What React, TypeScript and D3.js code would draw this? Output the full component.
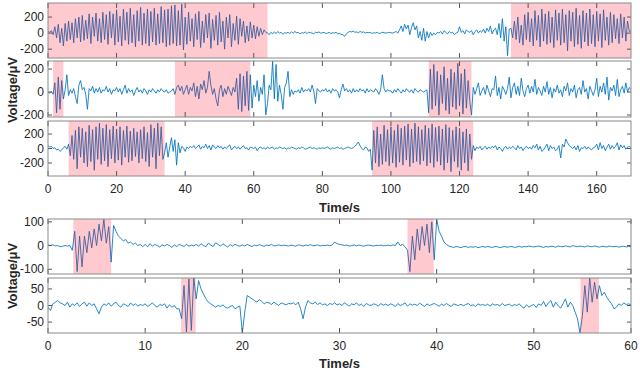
import React from "react";
import * as d3 from "d3";

// ---------- DATA ----------
const TOP_STEP = 0.5; // seconds between samples, upper figure
const BOT_STEP = 0.25; // seconds between samples, lower figure

const topXTicks = [0, 20, 40, 60, 80, 100, 120, 140, 160];
const botXTicks = [0, 10, 20, 30, 40, 50, 60];

const top1 = [
  20,10,30,-20,80,-60,110,-120,60,-160,120,-100,150,-80,130,-120,180,-60,200,-110,
  220,-90,160,-70,240,-130,200,-40,250,-100,180,-120,260,-80,230,-140,270,-60,240,-150,
  290,-110,210,-160,300,-90,260,-140,310,-120,230,-170,280,-100,320,-150,250,-130,300,-160,
  270,-110,310,-150,240,-130,330,-120,290,-170,300,-150,340,-130,350,-160,280,-150,360,-210,
  200,-140,260,-100,180,-170,240,-80,270,-180,150,-120,230,-60,250,-190,170,-90,220,-150,
  260,-110,150,-200,200,-60,230,-170,120,-90,210,-140,180,-40,150,-120,90,-100,140,-60,
  100,-70,80,-40,60,-20,40,10,
  0,-20,10,-10,15,-5,20,0,10,-15,5,0,
  10,-5,15,0,20,5,10,-10,5,0,15,-5,10,5,0,-10,10,5,15,0,
  5,10,-5,0,10,-5,5,0,10,-10,-5,-15,-20,-40,-10,10,20,15,25,10,
  15,5,20,10,15,0,10,5,10,-5,5,0,10,-5,0,10,5,0,5,10,
  5,0,10,20,0,40,90,20,110,50,100,-20,70,130,40,90,-60,20,-90,60,
  -100,20,-60,10,-30,0,-20,10,0,20,-10,30,10,-10,20,0,10,-20,0,10,
  80,10,30,-10,40,20,10,30,-20,20,40,0,30,10,50,0,60,20,90,-10,
  40,60,-20,120,-60,180,-100,80,-280,50,
  60,-60,150,-80,200,-120,100,-150,230,-80,
  260,-110,180,-160,280,-90,220,-170,300,-100,240,-140,270,-120,200,-180,290,-90,250,-150,
  300,-120,230,-220,280,-100,260,-170,310,-140,220,-190,280,-110,250,-160,300,-130,230,-170,
  270,-100,240,-180,290,-90,200,-150,260,-120,230,-70,180,-130,240,-60,200,-100,150,20,30,
];

const top2 = [
  0,-10,5,-20,80,-180,130,-150,100,-60,20,150,-30,20,-10,30,-40,-100,60,100,
  20,40,-20,-150,30,10,50,-10,30,0,40,-10,20,10,50,0,30,-20,20,10,
  40,0,30,-20,20,60,-10,30,0,20,-30,10,40,0,20,-10,30,10,-20,20,
  0,30,10,-10,20,0,30,10,0,20,-10,0,10,30,-20,40,60,10,50,-20,
  20,60,-20,40,10,80,-40,50,-60,70,20,100,-10,40,180,60,-20,30,-60,-120,
  20,60,-40,30,-20,50,10,-30,40,0,120,-150,160,-170,140,-120,180,-160,150,-140,
  60,-40,100,-80,40,-20,150,-200,-100,60,20,270,-60,240,-80,60,-20,-150,40,80,
  180,-40,20,-20,10,0,20,-10,40,0,20,10,30,0,60,10,-100,30,10,0,
  20,10,30,0,20,-10,30,10,20,0,-50,20,70,10,30,0,20,-10,30,0,
  20,0,30,10,20,-10,30,0,20,10,0,30,10,-20,20,150,30,0,20,10,
  10,-10,20,0,30,10,-10,20,0,30,10,0,20,-10,30,10,0,20,10,0,
  10,20,-180,200,-150,240,-120,180,-200,150,-100,220,-160,120,-190,200,-130,170,-150,250,
  -120,160,-190,200,-140,100,-80,-200,40,-20,30,80,-30,10,40,-20,60,10,-40,30,
  20,140,-30,40,-60,50,20,-20,30,130,-50,40,80,-20,50,-30,120,10,-40,30,
  60,-10,50,0,110,-20,40,10,-30,50,0,90,-20,40,-50,30,0,60,-10,20,
  -40,50,10,80,-30,30,0,60,-50,20,40,-20,100,0,30,-60,50,10,-30,20,
  120,-40,50,0,80,-20,130,-70,40,10,60,-30,110,-40,20,50,-10,80,0,40,20,
];

const top3 = [
  40,20,30,0,10,-20,-10,-40,-20,10,30,-10,60,-100,180,-150,250,-280,300,-120,
  280,-200,230,-250,320,-180,260,-300,300,-150,350,-220,280,-170,330,-250,260,-140,310,-200,
  270,-160,300,-230,250,-120,310,-190,240,-170,280,-110,230,-200,260,-140,300,-180,220,-250,
  330,-120,280,-280,350,-100,300,-150,
  -60,80,-120,20,150,-40,120,-230,80,-60,30,10,
  -40,20,0,30,10,40,0,20,50,-10,30,10,60,0,40,-20,50,20,0,40,
  10,30,-10,20,0,30,50,-20,10,30,0,20,-10,20,40,0,10,-20,20,10,
  0,20,-30,10,20,0,10,-10,20,0,10,20,-10,10,0,20,10,0,10,-10,
  10,0,20,10,0,-10,10,0,20,10,-10,0,10,20,0,10,0,-10,10,0,
  10,0,10,20,0,-10,10,0,10,20,0,10,-10,0,10,20,10,0,10,30,
  60,90,40,0,-20,20,10,-40,-10,-300,250,-200,300,-250,200,-220,320,-180,260,-240,
  300,-200,250,-260,330,-190,280,-230,310,-160,340,-250,270,-200,350,-180,300,-220,260,-170,
  320,-240,280,-200,340,-260,290,-180,310,-230,270,-300,330,-200,290,-320,250,-180,300,-260,
  280,-300,230,-200,270,-310,200,-150,
  40,-30,20,0,30,-20,10,30,-10,20,0,30,
  10,40,-20,20,0,-40,10,30,-10,20,0,30,10,-20,40,0,20,-30,10,30,
  0,20,-10,40,10,60,-20,30,-40,-20,20,60,-30,40,0,20,-30,-10,40,-130,
  60,20,130,80,40,20,0,30,-20,40,-40,10,0,30,-10,20,0,-20,10,20,
  60,-20,80,0,40,-30,20,60,-10,40,0,30,80,-20,50,10,40,-10,20,30,10,
];

const bot1 = [
  2,0,3,-2,0,-5,-3,0,-2,0,-20,60,-110,40,-90,40,-30,60,-10,70,
  0,90,20,110,10,80,-70,85,60,40,30,20,25,10,15,5,10,0,5,-5,
  5,-5,8,-3,5,0,-6,3,-2,5,0,-8,3,-5,6,0,-4,5,-3,2,
  -2,5,-3,8,0,-5,10,2,-4,12,5,-3,8,0,-6,4,-2,6,0,-3,
  3,-2,5,0,-4,2,-1,4,0,-3,2,0,5,-2,0,3,-1,2,0,-2,
  2,0,-3,3,1,-2,2,0,4,-1,0,3,-2,1,0,2,-1,3,15,8,
  5,3,0,2,-2,0,3,-1,2,0,-3,1,2,0,-2,1,0,2,-1,0,
  2,-1,3,0,15,0,5,-5,-20,-110,40,-60,70,-20,80,0,90,-30,100,-60,
  110,60,40,15,5,-2,-5,-8,-4,-6,-9,-5,-4,-8,-5,-7,-4,-9,-6,-4,
  -7,-4,-6,-8,-4,-5,-9,-6,-4,-7,-5,-4,-8,-6,-3,-7,-4,-5,-2,-4,
  -6,-4,-2,-5,-8,-4,-6,-3,-4,-7,-2,-4,-5,-1,-4,-6,0,-3,-5,-2,
  -4,-6,-1,-4,-5,-2,-4,-7,-3,-4,-6,-2,-4,-5,-3,-7,-4,-3,-6,-4,-5,
];

const bot2 = [
  -5,-15,5,10,15,8,5,0,10,-5,5,0,8,-3,5,10,-2,8,0,5,
  -10,-25,-5,5,0,8,-2,5,10,0,-5,5,2,-3,8,0,5,-2,3,0,
  5,-3,2,8,0,-5,3,0,5,-8,2,-5,0,-10,-10,-40,60,-80,80,-75,
  83,20,75,50,35,20,10,5,0,-5,0,-3,2,-5,-8,-3,0,-10,-5,-2,
  -83,-20,30,25,20,15,10,18,12,5,10,8,3,10,5,0,8,5,2,6,
  5,8,2,10,-10,-40,-5,15,8,5,10,3,8,2,5,0,6,3,8,2,
  5,0,8,3,-2,5,2,8,0,4,-3,6,2,0,5,3,-2,6,1,4,
  0,5,2,-3,6,0,3,8,-2,5,1,4,0,7,2,-3,5,0,3,6,
  2,-2,4,0,6,1,-3,5,2,0,4,-1,3,6,0,2,-3,5,1,3,
  0,4,-2,5,1,3,-1,6,0,2,4,-2,3,0,5,-3,-8,2,-5,0,
  3,-6,5,0,12,-3,8,15,-5,10,0,-8,5,20,-5,10,0,-20,-40,-83,
  -30,60,-20,83,10,70,20,60,30,40,25,15,5,-10,-5,5,0,8,3,5,2,
];

const top1Regions = [[0, 64], [135, 170]];
const top2Regions = [[1.5, 4.5], [37, 59], [111, 123.5]];
const top3Regions = [[6, 34], [94.5, 124]];
const bot1Regions = [[2.6, 6.5], [37, 39.7]];
const bot2Regions = [[13.7, 15.2], [54.8, 56.7]];

const topYTicks = [-200, 0, 200];
const bot1YTicks = [-100, 0, 100];
const bot2YTicks = [-50, 0, 50];

// ---------- LAYOUT ----------
const X0 = 48;
const X1 = 631;
const FONT = "'Liberation Sans', Arial, Helvetica, sans-serif";
const LINE_COLOR = "#0072BD";
const BOX_COLOR = "#8a8a8a";
const TEXT_COLOR = "#262626";

type PanelProps = {
  id: string;
  data: number[];
  step: number;
  xDomain: [number, number];
  yDomain: [number, number];
  yTicks: number[];
  xTicks: number[];
  regions: number[][];
  top: number;
  bottom: number;
  showXLabels: boolean;
};

function Panel(p: PanelProps) {
  const x = d3.scaleLinear().domain(p.xDomain).range([X0, X1]);
  const y = d3.scaleLinear().domain(p.yDomain).range([p.bottom, p.top]);
  const line = d3
    .line<number>()
    .x((_, i) => x(i * p.step))
    .y((d) => y(d));
  const tl = 5;
  return (
    <g>
      <defs>
        <clipPath id={`clip-${p.id}`}>
          <rect x={X0} y={p.top} width={X1 - X0} height={p.bottom - p.top} />
        </clipPath>
      </defs>
      <rect x={X0} y={p.top} width={X1 - X0} height={p.bottom - p.top} fill="#fff" />
      <g clipPath={`url(#clip-${p.id})`}>
        <path d={line(p.data) || ""} fill="none" stroke={LINE_COLOR} strokeWidth={0.85} strokeLinejoin="round" />
        {p.regions.map((r, i) => (
          <rect
            key={i}
            x={x(r[0])}
            y={p.top}
            width={x(r[1]) - x(r[0])}
            height={p.bottom - p.top}
            fill="#ff0022"
            fillOpacity={0.21}
          />
        ))}
      </g>
      {p.xTicks.map((t) => (
        <g key={`xt${t}`}>
          <line x1={x(t)} x2={x(t)} y1={p.top} y2={p.top + tl} stroke="#555" strokeWidth={1} />
          <line x1={x(t)} x2={x(t)} y1={p.bottom} y2={p.bottom - tl} stroke="#555" strokeWidth={1} />
          {p.showXLabels && (
            <text x={x(t)} y={p.bottom + 17} textAnchor="middle" fontSize={12} fill={TEXT_COLOR} fontFamily={FONT}>
              {t}
            </text>
          )}
        </g>
      ))}
      {p.yTicks.map((t) => (
        <g key={`yt${t}`}>
          <line x1={X0} x2={X0 + 4} y1={y(t)} y2={y(t)} stroke="#555" strokeWidth={1} />
          <line x1={X1} x2={X1 - 4} y1={y(t)} y2={y(t)} stroke="#555" strokeWidth={1} />
          <text x={X0 - 4} y={y(t) + 4.2} textAnchor="end" fontSize={12} fill={TEXT_COLOR} fontFamily={FONT}>
            {t}
          </text>
        </g>
      ))}
      <rect x={X0} y={p.top} width={X1 - X0} height={p.bottom - p.top} fill="none" stroke={BOX_COLOR} strokeWidth={1} />
    </g>
  );
}

export default function App() {
  const mid = (X0 + X1) / 2;
  return (
    <svg
      width={640}
      height={370}
      style={{ position: "absolute", left: 0, top: 0, background: "#fff" }}
      fontFamily={FONT}
    >
      <Panel id="t1" data={top1} step={TOP_STEP} xDomain={[0, 170]} yDomain={[-310, 375]} yTicks={topYTicks} xTicks={topXTicks} regions={top1Regions} top={3} bottom={58} showXLabels={false} />
      <Panel id="t2" data={top2} step={TOP_STEP} xDomain={[0, 170]} yDomain={[-217, 270]} yTicks={topYTicks} xTicks={topXTicks} regions={top2Regions} top={61} bottom={117} showXLabels={false} />
      <Panel id="t3" data={top3} step={TOP_STEP} xDomain={[0, 170]} yDomain={[-380, 380]} yTicks={topYTicks} xTicks={topXTicks} regions={top3Regions} top={121} bottom={176} showXLabels={true} />
      <Panel id="b1" data={bot1} step={BOT_STEP} xDomain={[0, 60]} yDomain={[-120, 112]} yTicks={bot1YTicks} xTicks={botXTicks} regions={bot1Regions} top={219} bottom={274} showXLabels={false} />
      <Panel id="b2" data={bot2} step={BOT_STEP} xDomain={[0, 60]} yDomain={[-83, 83]} yTicks={bot2YTicks} xTicks={botXTicks} regions={bot2Regions} top={278} bottom={333} showXLabels={true} />

      <text x={mid} y={211.5} textAnchor="middle" fontSize={13} fontWeight="bold" fill={TEXT_COLOR}>Time/s</text>
      <text x={mid} y={367.5} textAnchor="middle" fontSize={13} fontWeight="bold" fill={TEXT_COLOR}>Time/s</text>
      <text transform="translate(17,90) rotate(-90)" textAnchor="middle" fontSize={13} fontWeight="bold" fill={TEXT_COLOR}>Voltage/μV</text>
      <text transform="translate(17,276) rotate(-90)" textAnchor="middle" fontSize={13} fontWeight="bold" fill={TEXT_COLOR}>Voltage/μV</text>
    </svg>
  );
}
